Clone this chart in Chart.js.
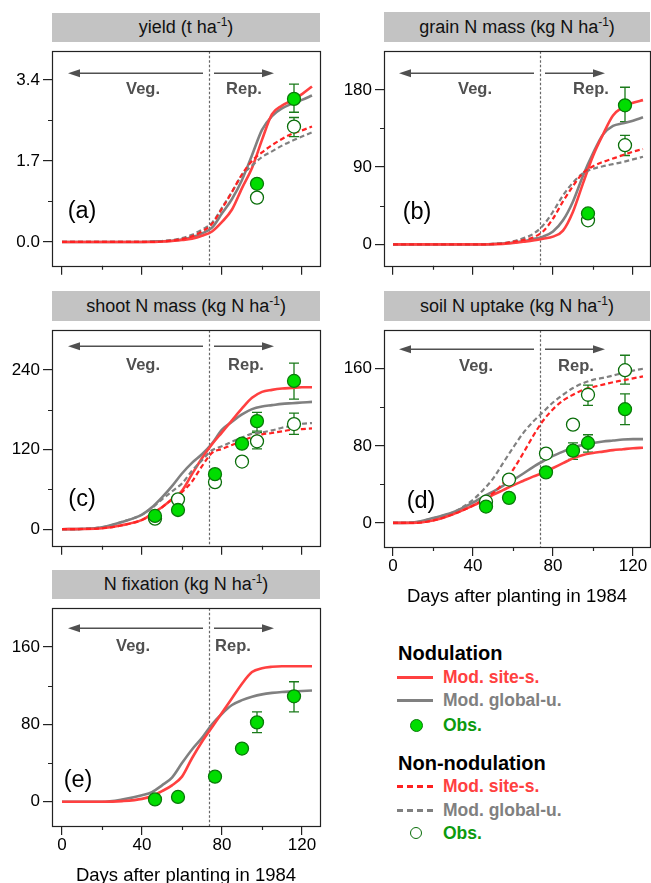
<!DOCTYPE html>
<html>
<head>
<meta charset="utf-8">
<script src="https://cdn.jsdelivr.net/npm/chart.js@4.4.1/dist/chart.umd.min.js"></script>
<style>
  body { margin:0; width:651px; height:883px; overflow:hidden; background:#fff; position:relative;
         font-family:"Liberation Sans", Arial, sans-serif; }
  canvas { position:absolute; }
  .bar { position:absolute; background:#c3c3c3; color:#111; font-size:18px; text-align:center; white-space:nowrap; }
  .bar sup { font-size:12px; vertical-align:7px; line-height:0; }
  .leg { position:absolute; font-weight:bold; white-space:nowrap; line-height:20px; }
  .sw { position:absolute; left:397px; width:36px; }
  .dot { position:absolute; border-radius:50%; box-sizing:border-box; }
</style>
</head>
<body>
<div class="leg" style="left:398px;top:642px;font-size:20px;line-height:22px;color:#000">Nodulation</div>
<div class="sw" style="top:675.5px;height:3px;background:#ff4040"></div>
<div class="leg" style="left:443px;top:667px;font-size:17.5px;color:#ff4040">Mod. site-s.</div>
<div class="sw" style="top:698.5px;height:3px;background:#808080"></div>
<div class="leg" style="left:443px;top:690px;font-size:17.5px;color:#808080">Mod. global-u.</div>
<div class="dot" style="left:409.5px;top:718.5px;width:13px;height:13px;background:#00dd00;border:1.3px solid #0a7a0a"></div>
<div class="leg" style="left:443px;top:715px;font-size:17.5px;color:#0c9a0c">Obs.</div>

<div class="leg" style="left:398px;top:752px;font-size:20px;line-height:22px;color:#000">Non-nodulation</div>
<div class="sw" style="top:785px;height:2.5px;background:repeating-linear-gradient(to right,#ff2020 0 6px,transparent 6px 10px)"></div>
<div class="leg" style="left:443px;top:776px;font-size:17.5px;color:#ff4040">Mod. site-s.</div>
<div class="sw" style="top:809px;height:2.5px;background:repeating-linear-gradient(to right,#808080 0 6px,transparent 6px 10px)"></div>
<div class="leg" style="left:443px;top:800px;font-size:17.5px;color:#808080">Mod. global-u.</div>
<div class="dot" style="left:410px;top:827px;width:12px;height:12px;background:#fff;border:1.3px solid #0a6e0a"></div>
<div class="leg" style="left:443px;top:823px;font-size:17.5px;color:#0c9a0c">Obs.</div>

<script>
const FONT = '"Liberation Sans", Arial, sans-serif'
Chart.defaults.font.family = FONT
Chart.defaults.color = '#000'

// model output days and observation days
const days = [0, 10, 20, 30, 40, 45, 50, 55, 60, 65, 70, 75, 80, 85, 90, 95, 100, 105, 110, 115, 120, 125]
const obsDays = [46.5, 58, 76.5, 90, 97.5, 116]
const phaseDay = 73.5
const xMajor = [0, 40, 80, 120]
const xMinor = [20, 60, 100]

// (a) yield
const yieldSiteNod = [0, 0, 0, 0, 0, 0, 0.01, 0.02, 0.04, 0.07, 0.13, 0.22, 0.42, 0.68, 1.13, 1.55, 2.14, 2.68, 2.86, 2.97, 3.1, 3.26]
const yieldGlobNod = [0, 0, 0, 0, 0, 0.01, 0.015, 0.025, 0.05, 0.1, 0.18, 0.3, 0.6, 0.9, 1.3, 1.82, 2.35, 2.64, 2.8, 2.9, 2.98, 3.07]
const yieldSiteNon = [0, 0, 0, 0, 0, 0, 0.01, 0.03, 0.06, 0.12, 0.22, 0.38, 0.7, 1.05, 1.42, 1.7, 1.88, 2.03, 2.16, 2.27, 2.34, 2.42]
const yieldGlobNon = [0, 0, 0, 0, 0, 0.01, 0.02, 0.04, 0.08, 0.15, 0.26, 0.4, 0.72, 1.05, 1.4, 1.6, 1.78, 1.9, 2.02, 2.12, 2.21, 2.3]
const yieldObsNod = [null, null, null, null, 1.22, 3.0]
const yieldObsNon = [null, null, null, null, 0.93, 2.42]
const yieldErrNod = [null, null, null, null, null, [2.72, 3.31]]
const yieldErrNon = [null, null, null, null, null, [2.21, 2.61]]

// (b) grain N mass
const grainSiteNod = [0, 0, 0, 0, 0, 0, 0.2, 0.5, 1.5, 3, 4.5, 6.5, 9, 16, 38, 71, 103, 128, 150, 160, 165, 168]
const grainGlobNod = [0, 0, 0, 0, 0, 0, 0.3, 1, 2, 3.5, 6, 9, 15, 28, 50, 80, 106, 128, 138, 141, 144, 148]
const grainSiteNon = [0, 0, 0, 0, 0, 0, 0.3, 1, 3, 5, 8, 15, 30, 50, 68, 83, 91, 96, 100, 104, 108, 111]
const grainGlobNon = [0, 0, 0, 0, 0, 0.2, 0.5, 1.5, 3.5, 7, 12, 22, 38, 57, 72, 83, 88, 91, 93.5, 96, 99, 102]
const grainObsNod = [null, null, null, null, 36, 162]
const grainObsNon = [null, null, null, null, 28, 115.5]
const grainErrNod = [null, null, null, null, null, [143, 183]]
const grainErrNon = [null, null, null, null, null, [103.5, 127]]

// (c) shoot N mass
const shootSiteNod = [0, 0.3, 1.5, 6, 14, 23, 33, 45, 58, 83, 107, 128, 146, 164, 182, 198, 207, 210, 212, 213, 214, 214]
const shootGlobNod = [0, 0.5, 3, 11, 22, 33, 48, 65, 84, 100, 113, 129, 150, 162, 173, 181, 185, 187, 189, 190, 191, 192]
const shootSiteNon = [0, 0.3, 1.5, 6, 14, 23, 33, 45, 56, 72, 95, 115, 121, 127, 133, 139, 143, 145, 147.5, 150, 151, 152]
const shootGlobNon = [0, 0.5, 3, 11, 22, 32, 45, 57, 69, 88, 104, 119, 125, 132, 138, 144, 146, 149, 153, 156, 159, 160]
const shootObsNod = [20, 29, 83, 129, 163, 223.5]
const shootObsNon = [16, 45, 71, 102, 132.5, 158.5]
const shootErrNod = [null, null, null, null, [148, 176], [196, 250.5]]
const shootErrNon = [null, null, null, null, [121, 145.5], [143, 175]]

// (d) soil N uptake
const soilSiteNod = [0, 0, 2.5, 9, 18, 23, 29, 34, 39, 43.5, 48, 52, 57, 62, 67, 70.5, 72.5, 74, 75.5, 76.5, 77.5, 78]
const soilGlobNod = [0, 0.5, 5, 11, 21, 27, 32.5, 38.5, 44.5, 51, 58, 64, 69.5, 74, 78, 81, 83, 84.5, 85.5, 86.5, 87, 87]
const soilSiteNon = [0, 0, 2.5, 9, 18, 24, 31, 41, 55, 72, 90, 106, 118, 127, 133, 138, 141, 143.5, 146, 148, 150, 152]
const soilGlobNon = [0, 0.5, 5, 11, 24, 34, 46, 62, 78, 93, 105, 115, 125, 133, 140, 145, 148.5, 150.5, 153, 155.5, 158, 160]
const soilObsNod = [17, 26, 52.5, 75, 83, 118]
const soilObsNon = [22, 45, 72, 102, 133, 158.5]
const soilErrNod = [null, null, null, [66, 83], [73.5, 91.5], [102, 134]]
const soilErrNon = [null, null, null, null, [122, 143], [144, 174]]

// (e) N fixation
const fixSiteNod = [0, 0, 0, 0.7, 3, 6, 11, 17, 26, 45, 62, 77, 92, 107, 122, 134, 138, 139.5, 140, 140, 140, 140]
const fixGlobNod = [0, 0, 0, 2.3, 6.7, 10, 17, 25, 40, 54, 66, 80, 91, 100, 105, 108.5, 111, 112.5, 113.5, 114, 114.5, 115]
const fixObsNod = [2.5, 5, 26, 55, 82, 109]
const fixErrNod = [null, null, null, null, [71.5, 93], [93, 124]]

const RED = '#ff4040'
const RED_D = '#ff2222'
const GREY = '#808080'

const panels = [
    {
        tag: '(a)', title: 'yield (t ha<sup>-1</sup>)', box: [52, 42, 320, 267], titleTop: 13, bottom: 12,
        xRange: [-5, 129], yRange: [-0.5, 4.0], yMajor: [0, 1.7, 3.4], yMinor: [0.85, 2.55], fmt: v => v.toFixed(1),
        lines: [[yieldSiteNon, RED_D, true], [yieldGlobNon, GREY, true], [yieldSiteNod, RED, false], [yieldGlobNod, GREY, false]],
        obs: [[yieldObsNon, yieldErrNon, false], [yieldObsNod, yieldErrNod, true]],
        tagPos: [10, 0.64], arrowDy: 22, textDy: 38, vegX: 40.5, repX: 91,
    },
    {
        tag: '(b)', title: 'grain N mass (kg N ha<sup>-1</sup>)', box: [384, 42, 650, 267], titleTop: 12, bottom: 12,
        xRange: [-4.5, 128.5], yRange: [-25, 225], yMajor: [0, 90, 180], yMinor: [45, 135], fmt: v => String(v),
        lines: [[grainSiteNon, RED_D, true], [grainGlobNon, GREY, true], [grainSiteNod, RED, false], [grainGlobNod, GREY, false]],
        obs: [[grainObsNon, grainErrNon, false], [grainObsNod, grainErrNod, true]],
        tagPos: [12, 36.7], arrowDy: 22, textDy: 38, vegX: 41, repX: 99,
    },
    {
        tag: '(c)', title: 'shoot N mass (kg N ha<sup>-1</sup>)', box: [52, 321, 320, 547], titleTop: 291, bottom: 12,
        xRange: [-5, 129], yRange: [-25, 300], yMajor: [0, 120, 240], yMinor: [60, 180], fmt: v => String(v),
        lines: [[shootSiteNon, RED_D, true], [shootGlobNon, GREY, true], [shootSiteNod, RED, false], [shootGlobNod, GREY, false]],
        obs: [[shootObsNon, shootErrNon, false], [shootObsNod, shootErrNod, true]],
        tagPos: [10, 44.8], arrowDy: 16, textDy: 35, vegX: 40.5, repX: 92,
    },
    {
        tag: '(d)', title: 'soil N uptake (kg N ha<sup>-1</sup>)', box: [384, 321, 650, 547], titleTop: 291, bottom: 62, xTitle: true,
        xRange: [-4.5, 128.5], yRange: [-25, 200], yMajor: [0, 80, 160], yMinor: [40, 120], fmt: v => String(v),
        lines: [[soilSiteNon, RED_D, true], [soilGlobNon, GREY, true], [soilSiteNod, RED, false], [soilGlobNod, GREY, false]],
        obs: [[soilObsNon, soilErrNon, false], [soilObsNod, soilErrNod, true]],
        tagPos: [14, 21.9], arrowDy: 19, textDy: 36, vegX: 41.5, repX: 91.5,
    },
    {
        tag: '(e)', title: 'N fixation (kg N ha<sup>-1</sup>)', box: [52, 599, 320, 826], titleTop: 570, bottom: 62, xTitle: true,
        xRange: [-5, 129], yRange: [-25, 200], yMajor: [0, 80, 160], yMinor: [40, 120], fmt: v => String(v),
        lines: [[fixSiteNod, RED, false], [fixGlobNod, GREY, false]],
        obs: [[fixObsNod, fixErrNod, true]],
        tagPos: [8, 22], arrowDy: 20, textDy: 38, vegX: 35.5, repX: 85.5,
    },
]

function arrow(ctx, x0, x1, y) {
    const dir = Math.sign(x1 - x0), hl = 12, hw = 4
    ctx.beginPath()
    ctx.moveTo(x0, y)
    ctx.lineTo(x1 - dir * hl, y)
    ctx.stroke()
    ctx.beginPath()
    ctx.moveTo(x1, y)
    ctx.lineTo(x1 - dir * hl, y - hw)
    ctx.lineTo(x1 - dir * hl, y + hw)
    ctx.closePath()
    ctx.fill()
}

function decor(p) {
    return {
        id: 'decor',
        beforeDatasetsDraw(chart) {
            const { ctx, chartArea: a, scales: { x, y } } = chart
            ctx.save()
            // phase boundary
            const px = Math.round(x.getPixelForValue(phaseDay)) + 0.5
            ctx.strokeStyle = '#666'
            ctx.lineWidth = 1.2
            ctx.setLineDash([2.5, 2])
            ctx.beginPath()
            ctx.moveTo(px, a.top)
            ctx.lineTo(px, a.bottom)
            ctx.stroke()
            ctx.setLineDash([])
            // error bars
            ctx.strokeStyle = '#1a7a1a'
            ctx.lineWidth = 1.3
            p.obs.forEach(([, errs]) => {
                errs.forEach((e, i) => {
                    if (!e) return
                    const cx = x.getPixelForValue(obsDays[i])
                    const lo = y.getPixelForValue(e[0]), hi = y.getPixelForValue(e[1])
                    ctx.beginPath()
                    ctx.moveTo(cx, lo); ctx.lineTo(cx, hi)
                    ctx.moveTo(cx - 5, lo); ctx.lineTo(cx + 5, lo)
                    ctx.moveTo(cx - 5, hi); ctx.lineTo(cx + 5, hi)
                    ctx.stroke()
                })
            })
            ctx.restore()
        },
        afterDraw(chart) {
            const { ctx, chartArea: a, scales: { x, y } } = chart
            ctx.save()
            // frame
            ctx.strokeStyle = '#222'
            ctx.lineWidth = 1.2
            ctx.strokeRect(Math.round(a.left) + 0.5, Math.round(a.top) + 0.5, Math.round(a.right - a.left), Math.round(a.bottom - a.top))
            // minor ticks
            ctx.beginPath()
            xMinor.forEach(v => {
                const px = Math.round(x.getPixelForValue(v)) + 0.5
                ctx.moveTo(px, a.bottom); ctx.lineTo(px, a.bottom + 4)
            })
            p.yMinor.forEach(v => {
                const py = Math.round(y.getPixelForValue(v)) + 0.5
                ctx.moveTo(a.left - 4, py); ctx.lineTo(a.left, py)
            })
            ctx.stroke()
            // phase arrows and labels
            const ay = a.top + p.arrowDy
            ctx.strokeStyle = '#505050'
            ctx.fillStyle = '#505050'
            ctx.lineWidth = 1.5
            arrow(ctx, x.getPixelForValue(70.5), x.getPixelForValue(3), ay)
            arrow(ctx, x.getPixelForValue(76), x.getPixelForValue(106), ay)
            ctx.font = 'bold 16.5px ' + FONT
            ctx.textAlign = 'center'
            ctx.textBaseline = 'middle'
            ctx.fillText('Veg.', x.getPixelForValue(p.vegX), a.top + p.textDy)
            ctx.fillText('Rep.', x.getPixelForValue(p.repX), a.top + p.textDy)
            // panel tag
            ctx.fillStyle = '#000'
            ctx.font = '23.5px ' + FONT
            ctx.fillText(p.tag, x.getPixelForValue(p.tagPos[0]), y.getPixelForValue(p.tagPos[1]))
            ctx.restore()
        },
    }
}

function buildPanel(p) {
    const W = p.box[2] - p.box[0], H = p.box[3] - p.box[1]
    const padL = 60, padT = 4, padR = 12
    const cv = document.createElement('canvas')
    cv.width = W + padL + padR
    cv.height = H + padT + p.bottom
    cv.style.left = (p.box[0] - padL) + 'px'
    cv.style.top = (p.box[1] - padT) + 'px'
    document.body.appendChild(cv)

    const bar = document.createElement('div')
    bar.className = 'bar'
    const bh = p.box[1] - p.titleTop
    Object.assign(bar.style, {
        left: p.box[0] + 'px', top: p.titleTop + 'px', width: W + 'px',
        height: bh + 'px', lineHeight: bh + 'px',
    })
    bar.innerHTML = p.title
    document.body.appendChild(bar)

    const datasets = []
    p.lines.forEach(([vals, color, dashed]) => {
        datasets.push({
            data: days.map((d, i) => ({ x: d, y: vals[i] })),
            borderColor: color,
            borderWidth: dashed ? 2.2 : 2.6,
            borderDash: dashed ? [5, 3] : [],
            pointRadius: 0,
            cubicInterpolationMode: 'monotone',
            fill: false,
            order: 3,
        })
    })
    p.obs.forEach(([vals, , filled]) => {
        datasets.push({
            data: obsDays.map((d, i) => ({ x: d, y: vals[i] })).filter(o => o.y != null),
            showLine: false,
            pointRadius: 6.5,
            pointBackgroundColor: filled ? '#00dd00' : '#ffffff',
            pointBorderColor: filled ? '#0a7a0a' : '#0a6e0a',
            pointBorderWidth: 1.3,
            order: filled ? 0 : 1,
        })
    })

    new Chart(cv, {
        type: 'line',
        data: { datasets },
        options: {
            responsive: false,
            animation: false,
            devicePixelRatio: 1,
            layout: { padding: { top: padT, right: padR, left: 0, bottom: 0 } },
            plugins: { legend: { display: false }, tooltip: { enabled: false } },
            scales: {
                x: {
                    type: 'linear', min: p.xRange[0], max: p.xRange[1],
                    afterFit: s => { s.height = p.bottom },
                    afterBuildTicks: s => { s.ticks = xMajor.map(v => ({ value: v })) },
                    ticks: {
                        autoSkip: false, maxRotation: 0, padding: 0, font: { size: 17 },
                        callback: v => p.xTitle ? String(v) : '',
                    },
                    grid: { drawOnChartArea: false, drawTicks: true, tickLength: 9, color: '#222', lineWidth: 1.2 },
                    border: { display: false },
                    title: {
                        display: !!p.xTitle, text: 'Days after planting in 1984',
                        font: { size: 18.5 }, color: '#000', padding: { top: 0, bottom: 1 },
                    },
                },
                y: {
                    min: p.yRange[0], max: p.yRange[1],
                    afterFit: s => { s.width = padL },
                    afterBuildTicks: s => { s.ticks = p.yMajor.map(v => ({ value: v })) },
                    ticks: { autoSkip: false, padding: 3, font: { size: 17 }, callback: v => p.fmt(v) },
                    grid: { drawOnChartArea: false, drawTicks: true, tickLength: 9, color: '#222', lineWidth: 1.2 },
                    border: { display: false },
                },
            },
        },
        plugins: [decor(p)],
    })
}

panels.forEach(buildPanel)
</script>
</body>
</html>
